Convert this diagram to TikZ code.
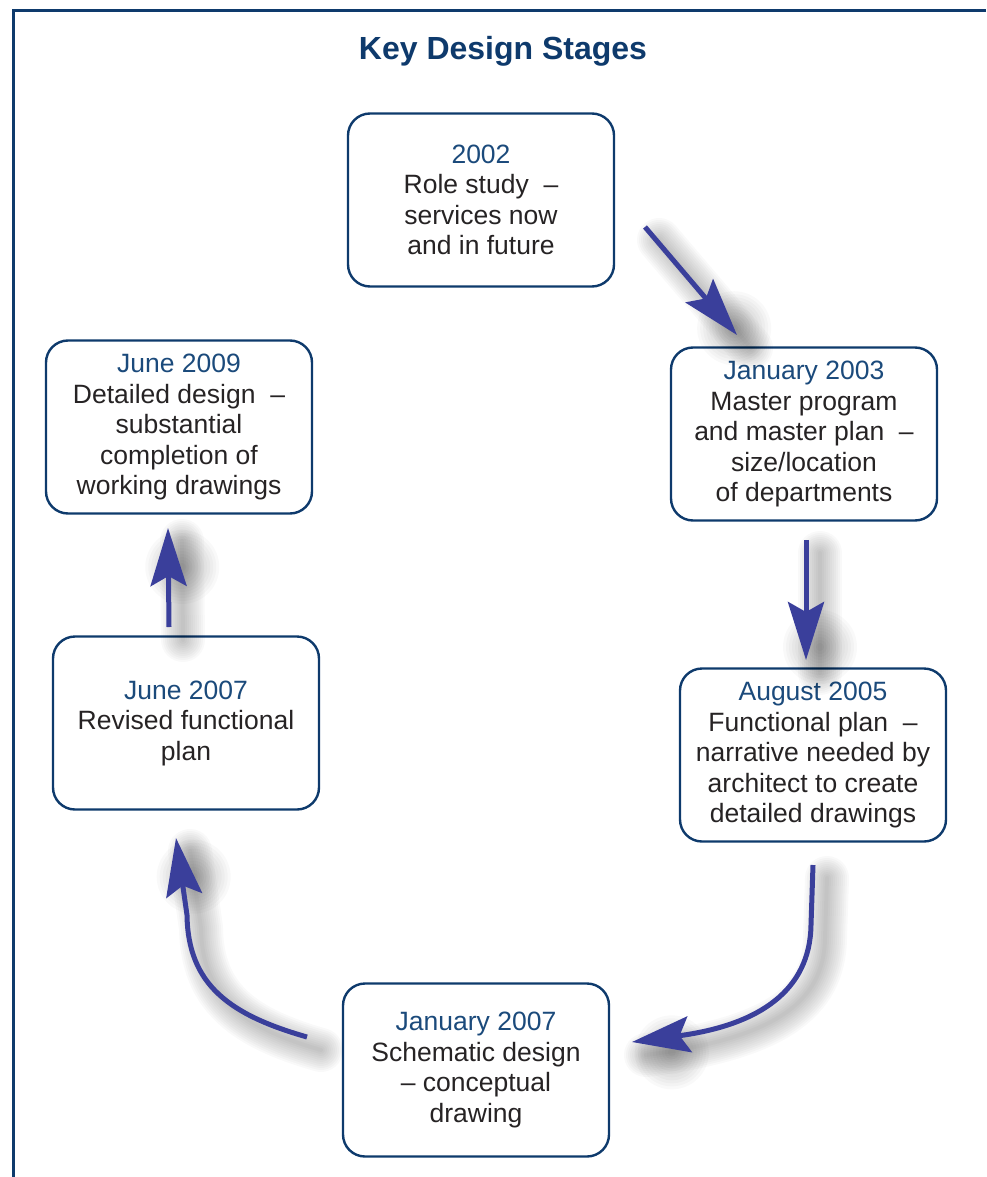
\documentclass[tikz,border=0pt]{standalone}
\usepackage{fontspec}
\setmainfont{Liberation Sans}
\usetikzlibrary{arrows.meta, calc}

\definecolor{navy}{HTML}{0E3A6C}
\definecolor{datecol}{HTML}{1B4A7B}
\definecolor{ink}{HTML}{262324}
\definecolor{flowblue}{HTML}{3A3F9B}

\tikzset{
  stage/.style={draw=navy, line width=2.4pt, rounded corners=22pt, minimum width=266pt,
    minimum height=173pt, align=center, text=ink, inner sep=0pt,
    font=\fontsize{26.5}{30.5}\selectfont},
  flow/.style={draw=flowblue, line width=5pt, -{Stealth[length=58pt, width=36pt, inset=10pt]}},
  haze/.style={black, opacity=0.022, line cap=round, transform canvas={shift={(14pt,-13pt)}}}
}

\begin{document}
\begin{tikzpicture}[x=1pt, y=-1pt]
	\useasboundingbox (0,0) rectangle (986,1177);
	\draw [navy, line width=3pt] (986,11) -- (13,11) -- (13,1177);

	\node [anchor=base, text=navy, font=\fontsize{32}{38}\selectfont\bfseries] (title) at (503,60) {Key Design Stages};

	\node [stage] (s2002) at (481,200) {{\color{datecol}2002}\\Role study~~–\\services now\\and in future};
	\node [stage] (s2003) at (804,434) {{\color{datecol}January 2003}\\Master program\\and master plan~~–\\size/location\\of departments};
	\node [stage] (s2005) at (813,755) {{\color{datecol}August 2005}\\Functional plan~~–\\narrative needed by\\architect to create\\detailed drawings};
	\node [stage] (s2007a) at (476,1070) {{\color{datecol}January 2007}\\Schematic design\\–~conceptual\\drawing};
	\node [stage] (s2007b) at (186,723) {{\color{datecol}June 2007}\\Revised functional\\plan};
	\node [stage] (s2009) at (179,427) {{\color{datecol}June 2009}\\Detailed design~~–\\substantial\\completion of\\working drawings};

	\coordinate (t1) at (645,227);
	\coordinate (h1) at (737,335);
	\coordinate (t2) at (806,540);
	\coordinate (h2) at (806,660);
	\coordinate (t3) at (813,865);
	\coordinate (b3) at (811,925);
	\coordinate (h3) at (632,1042);
	\coordinate (t4) at (307,1037);
	\coordinate (b4) at (187,915);
	\coordinate (h4) at (176,838);
	\coordinate (t5) at (169,627);
	\coordinate (h5) at (168,528);

	\foreach \w in {4,8,...,44} {
		\draw [haze, line width=\w pt] (t1) -- (h1);
		\draw [haze, line width=\w pt] (t2) -- (h2);
		\draw [haze, line width=\w pt] (t3) -- (b3) .. controls (810,990) and (760,1025) .. (h3);
		\draw [haze, line width=\w pt] (t4) .. controls (230,1015) and (188,985) .. (b4) -- (h4);
		\draw [haze, line width=\w pt] (t5) -- (h5);
	}
	\foreach \r in {4,7,...,37} {
		\fill [haze] ($(h1)!26pt!(t1)$) circle (\r pt);
		\fill [haze] ($(h2)!26pt!(t2)$) circle (\r pt);
		\fill [haze] ($(h3)!26pt!(700,1035)$) circle (\r pt);
		\fill [haze] ($(h4)!26pt!(b4)$) circle (\r pt);
		\fill [haze] ($(h5)!26pt!(t5)$) circle (\r pt);
	}

	\draw [flow] (t1) -- (h1);
	\draw [flow] (t2) -- (h2);
	\draw [flow] (t3) -- (b3) .. controls (810,990) and (760,1025) .. (h3);
	\draw [flow] (t4) .. controls (230,1015) and (188,985) .. (b4) -- (h4);
	\draw [flow] (t5) -- (h5);
\end{tikzpicture}
\end{document}
